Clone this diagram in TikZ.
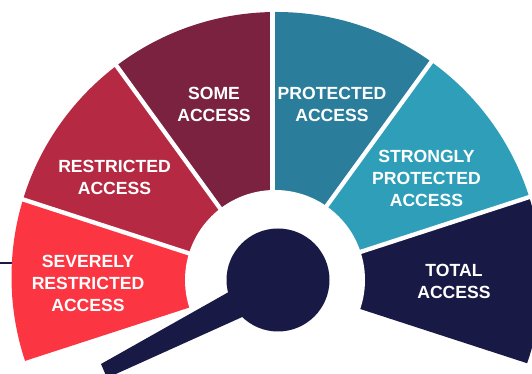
\documentclass[tikz,border=0pt]{standalone}
\usepackage{fontspec}
\setmainfont{Liberation Sans}
\usepackage{tikz}
\definecolor{severecol}{HTML}{FB3541}
\definecolor{restrictcol}{HTML}{B52A42}
\definecolor{somecol}{HTML}{7B2241}
\definecolor{protectcol}{HTML}{2A7E9B}
\definecolor{strongcol}{HTML}{2F9FB9}
\definecolor{navycol}{HTML}{191946}
\begin{document}
\begin{tikzpicture}[x=1pt,y=1pt,
                    access node/.style={align=center, inner sep=0pt, text=white,
                      font=\bfseries\fontsize{17.6}{22}\selectfont},
                    gap line/.style={white, line width=4.3}]
  \useasboundingbox (0,0) rectangle (532,374);

  \coordinate (pivot) at (272.5,93.5);
  \coordinate (rim) at (276.5,97);

  %line behind the dial%
  \draw[navycol, line width=2] (0,110.7) -- (14,110.7);

  %Sectors%
  \begin{scope}
    \clip (rim) circle (265);
    \foreach \a/\c in {-18/navycol,18/strongcol,54/protectcol,90/somecol,126/restrictcol,162/severecol}
      \fill[\c] (pivot) -- +(\a:420) -- +(\a+36:420) -- cycle;
  \end{scope}
  \foreach \a in {18,54,90,126,162}
    \draw[gap line] (pivot) -- +(\a:420);
  \fill[white] (275,94) circle (90);

  %Needle%
  \fill[navycol] (101,10) -- (107,-4) -- (260,65) -- (250,94) -- cycle;
  \fill[navycol] (278,94) circle (51.5);

  %Labels%
  \node[access node] (some)      at (214,269.5) {SOME\\ACCESS};
  \node[access node] (protected) at (332,269.5) {PROTECTED\\ACCESS};
  \node[access node] (restricted) at (114.5,196.5) {RESTRICTED\\ACCESS};
  \node[access node] (severely)  at (88,90.5) {SEVERELY\\RESTRICTED\\ACCESS};
  \node[access node] (strongly)  at (426.5,195.5) {STRONGLY\\PROTECTED\\ACCESS};
  \node[access node] (total)     at (454,92.5) {TOTAL\\ACCESS};
\end{tikzpicture}
\end{document}
